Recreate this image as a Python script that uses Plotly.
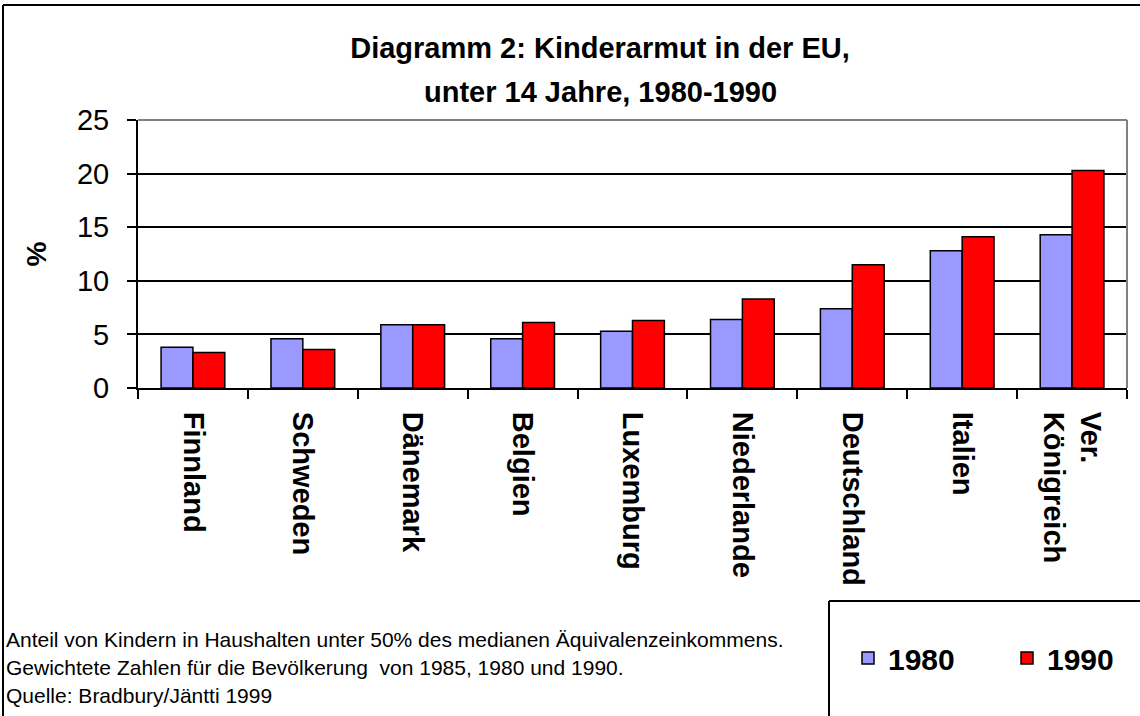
import plotly.graph_objects as go

countries = ["Finnland", "Schweden", "Dänemark", "Belgien", "Luxemburg",
             "Niederlande", "Deutschland", "Italien", "Ver.<br>Königreich"]
v1980 = [3.8, 4.6, 5.9, 4.6, 5.3, 6.4, 7.4, 12.8, 14.3]
v1990 = [3.3, 3.6, 5.9, 6.1, 6.3, 8.3, 11.5, 14.1, 20.3]
yticks = [0, 5, 10, 15, 20, 25]
title_lines = ["Diagramm 2: Kinderarmut in der EU,", "unter 14 Jahre, 1980-1990"]

W, H = 1140, 716
L, R, T, B = 138, 13, 120, 328
PW, PH = W - L - R, H - T - B

def px(x):
    return (x - L) / PW

def py(y):
    return (H - B - y) / PH

FONT = "Arial, 'Liberation Sans', sans-serif"

fig = go.Figure()
fig.add_trace(go.Bar(x=countries, y=v1980, name="1980",
                     marker=dict(color="#9999FF", line=dict(color="black", width=1.5))))
fig.add_trace(go.Bar(x=countries, y=v1990, name="1990",
                     marker=dict(color="#FF0000", line=dict(color="black", width=1.5))))

shapes = [
    dict(type="line", xref="paper", yref="paper", x0=0, x1=1, y0=1, y1=1,
         line=dict(color="#808080", width=2)),
    dict(type="line", xref="paper", yref="paper", x0=1, x1=1, y0=0, y1=1,
         line=dict(color="#808080", width=2)),
    dict(type="line", xref="paper", yref="paper", x0=px(3), x1=px(1140), y0=py(5), y1=py(5),
         line=dict(color="black", width=2)),
    dict(type="line", xref="paper", yref="paper", x0=px(3), x1=px(3), y0=py(5), y1=py(716),
         line=dict(color="black", width=2)),
    dict(type="line", xref="paper", yref="paper", x0=px(829), x1=px(1140), y0=py(601), y1=py(601),
         line=dict(color="black", width=2)),
    dict(type="line", xref="paper", yref="paper", x0=px(829), x1=px(829), y0=py(601), y1=py(716),
         line=dict(color="black", width=2)),
]

notes = ["Anteil von Kindern in Haushalten unter 50% des medianen Äquivalenzeinkommens.",
         "Gewichtete Zahlen für die Bevölkerung  von 1985, 1980 und 1990.",
         "Quelle: Bradbury/Jäntti 1999"]
annotations = []
for i, t in enumerate(notes):
    annotations.append(dict(text=t, xref="paper", yref="paper", x=px(4), y=py(639 + 28 * i),
                            xanchor="left", yanchor="middle", showarrow=False,
                            font=dict(family=FONT, size=21, color="black")))
# second title line
annotations.append(dict(text=f"<b>{title_lines[1]}</b>", xref="paper", yref="paper",
                        x=px(600), y=py(92), xanchor="center", yanchor="middle", showarrow=False,
                        font=dict(family=FONT, size=29, color="black")))

fig.update_layout(
    width=W, height=H,
    margin=dict(l=L, r=R, t=T, b=B),
    paper_bgcolor="white", plot_bgcolor="white",
    title=dict(text=f"<b>{title_lines[0]}</b>",
               x=600 / W, xanchor="center", xref="container", y=1 - 48 / H, yanchor="middle",
               font=dict(family=FONT, size=29, color="black")),
    barmode="group", bargap=0.42, bargroupgap=0,
    xaxis=dict(type="category", showline=True, linecolor="black", linewidth=2,
               ticks="outside", tickson="boundaries", ticklen=9, tickcolor="black", tickwidth=2,
               tickangle=90, tickfont=dict(family=FONT, size=29, color="black", weight="bold"),
               ticklabelstandoff=16, showgrid=False),
    yaxis=dict(range=[0, 25], tickvals=yticks, showline=True, linecolor="black", linewidth=2,
               ticks="outside", ticklen=9, tickcolor="black", tickwidth=2,
               tickfont=dict(family=FONT, size=29, color="black"), ticklabelstandoff=12,
               showgrid=True, gridcolor="black", gridwidth=1.5, zeroline=False,
               title=dict(text="<b>%</b>", font=dict(family=FONT, size=28, color="black"),
                          standoff=22)),
    legend=dict(orientation="h", xref="container", yref="container",
                x=848 / W, xanchor="left", y=1 - 658 / H, yanchor="middle",
                font=dict(family=FONT, size=30, color="black", weight="bold"),
                bgcolor="rgba(0,0,0,0)", entrywidth=114, entrywidthmode="pixels"),
    shapes=shapes, annotations=annotations,
)

fig.write_html("out.html", config={"displayModeBar": False},
               post_script="document.body.style.margin='0';")
